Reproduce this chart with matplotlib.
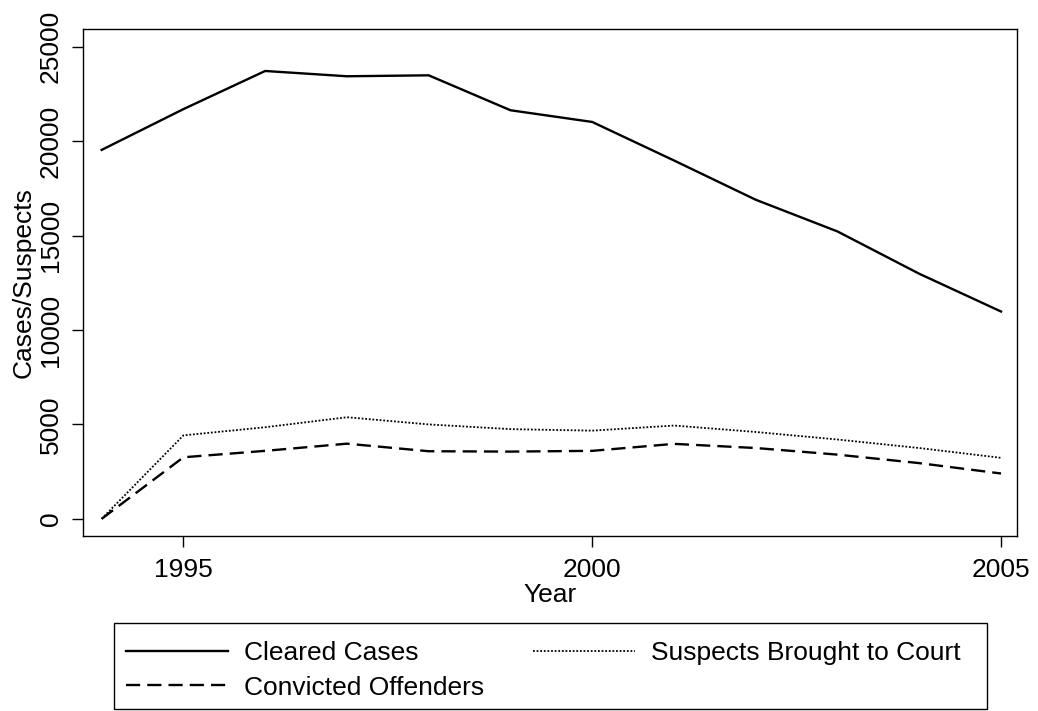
import numpy as np
import matplotlib.pyplot as plt
from matplotlib.patches import Rectangle

plt.rcParams['font.family'] = ['Liberation Sans', 'DejaVu Sans']

# DATA

years = np.arange(1994, 2006)
cleared = [19540, 21700, 23720, 23440, 23490, 21640, 21020, 18980, 16900, 15220, 12980, 10980]
suspects = [0, 4420, 4850, 5380, 5000, 4750, 4670, 4940, 4600, 4200, 3750, 3230]
convicted = [0, 3260, 3600, 3980, 3580, 3560, 3600, 3970, 3750, 3400, 2950, 2400]

W, H = 1038, 711
fig = plt.figure(figsize=(W / 100, H / 100), dpi=100)
ax = fig.add_axes([0.0803, 0.2468, 0.8995, 0.7124])

l1, = ax.plot(years, cleared, color='black', lw=1.7, ls='-', label='Cleared Cases')
l2, = ax.plot(years, suspects, color='black', lw=1.3, ls=(0, (1, 1)), label='Suspects Brought to Court')
l3, = ax.plot(years, convicted, color='black', lw=1.7, ls=(0, (6, 3)), label='Convicted Offenders')

ax.set_xlim(1993.776, 2005.196)
ax.set_ylim(-885, 25943)
ax.set_xticks([1995, 2000, 2005])
ax.set_yticks([0, 5000, 10000, 15000, 20000, 25000])
ax.tick_params(direction='out', length=8, width=1, labelsize=19, colors='black')
ax.tick_params(axis='x', pad=8.5)
ax.tick_params(axis='y', pad=7)
for t in ax.get_yticklabels():
    t.set_rotation(90)
    t.set_va('center')
for s in ax.spines.values():
    s.set_linewidth(1)

ax.set_xlabel('Year', fontsize=19, labelpad=0.5)
ax.set_ylabel('Cases/Suspects', fontsize=19, labelpad=2)

# legend box drawn separately so its edges sit where the reference has them
fig.patches.append(Rectangle((114 / W, 1 - 709 / H), (987 - 114) / W, (709 - 623) / H,
                             transform=fig.transFigure, fill=False,
                             edgecolor='black', lw=1))
leg = fig.legend(handles=[l1, l3, l2], ncol=2, loc='upper left',
                 bbox_to_anchor=(126 / W, 1 - 641 / H), fontsize=19,
                 frameon=False, handlelength=3.86, handletextpad=0.6,
                 columnspacing=1.87, borderpad=0, labelspacing=0.4,
                 borderaxespad=0)

fig.savefig('out.png', dpi=100)
